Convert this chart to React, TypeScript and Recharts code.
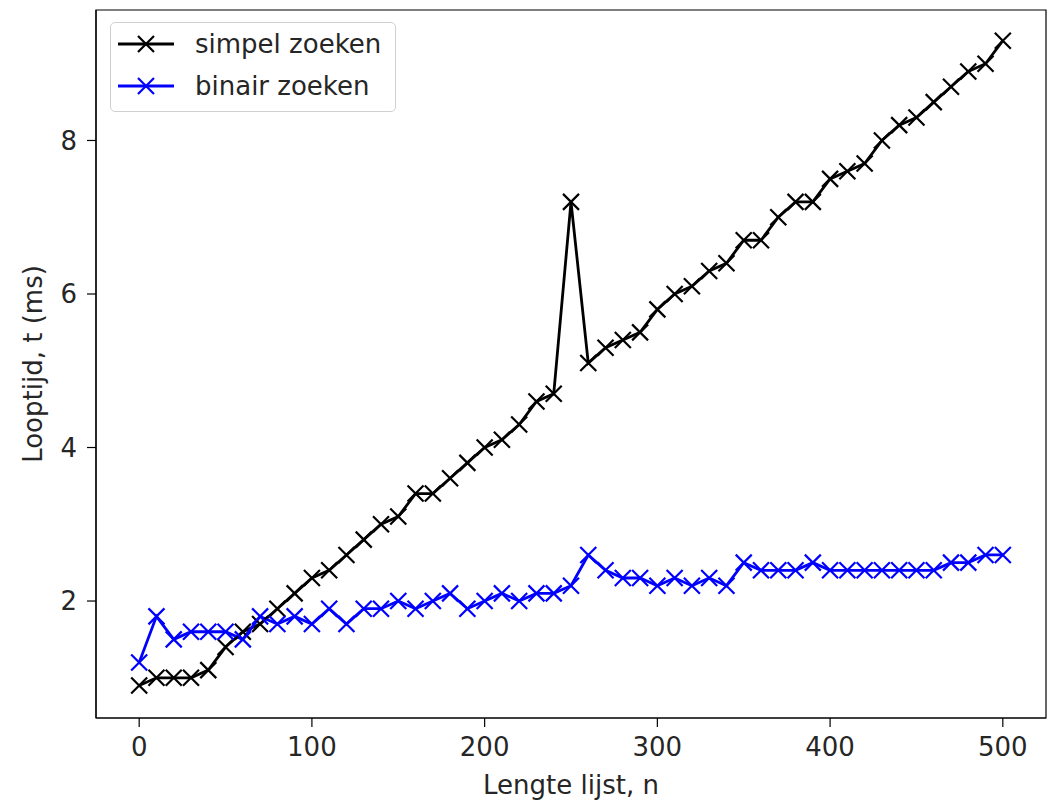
import React from "react";
import {
  LineChart,
  Line,
  XAxis,
  YAxis,
  Legend,
  Label,
  ReferenceArea,
} from "recharts";

// lengte van de lijst, stappen van 10
const lengths = [
  0, 10, 20, 30, 40, 50, 60, 70, 80, 90, 100, 110, 120, 130, 140, 150, 160,
  170, 180, 190, 200, 210, 220, 230, 240, 250, 260, 270, 280, 290, 300, 310,
  320, 330, 340, 350, 360, 370, 380, 390, 400, 410, 420, 430, 440, 450, 460,
  470, 480, 490, 500,
];

const simpelZoeken = [
  0.9, 1.0, 1.0, 1.0, 1.1, 1.4, 1.6, 1.7, 1.9, 2.1, 2.3, 2.4, 2.6, 2.8, 3.0,
  3.1, 3.4, 3.4, 3.6, 3.8, 4.0, 4.1, 4.3, 4.6, 4.7, 7.2, 5.1, 5.3, 5.4, 5.5,
  5.8, 6.0, 6.1, 6.3, 6.4, 6.7, 6.7, 7.0, 7.2, 7.2, 7.5, 7.6, 7.7, 8.0, 8.2,
  8.3, 8.5, 8.7, 8.9, 9.0, 9.3,
];

const binairZoeken = [
  1.2, 1.8, 1.5, 1.6, 1.6, 1.6, 1.5, 1.8, 1.7, 1.8, 1.7, 1.9, 1.7, 1.9, 1.9,
  2.0, 1.9, 2.0, 2.1, 1.9, 2.0, 2.1, 2.0, 2.1, 2.1, 2.2, 2.6, 2.4, 2.3, 2.3,
  2.2, 2.3, 2.2, 2.3, 2.2, 2.5, 2.4, 2.4, 2.4, 2.5, 2.4, 2.4, 2.4, 2.4, 2.4,
  2.4, 2.4, 2.5, 2.5, 2.6, 2.6,
];

const xTicks = [0, 100, 200, 300, 400, 500];
const yTicks = [2, 4, 6, 8];
const xDomain: [number, number] = [-25, 525];
const yDomain: [number, number] = [0.476, 9.7];

const series = [
  { key: "simpel", name: "simpel zoeken", color: "#000000" },
  { key: "binair", name: "binair zoeken", color: "#0000ff" },
];

const data = lengths.map((n, i) => ({
  n,
  simpel: simpelZoeken[i],
  binair: binairZoeken[i],
}));

const FONT = "'DejaVu Sans', sans-serif";
const TEXT = "#262626";
const FS = 26;

function cross(color: string) {
  return (props: any) => {
    const { cx, cy, index } = props;
    if (cx == null || cy == null) return <g key={index} />;
    const r = 8;
    return (
      <path
        key={index}
        d={`M${cx - r},${cy - r}L${cx + r},${cy + r}M${cx - r},${cy + r}L${cx + r},${cy - r}`}
        stroke={color}
        strokeWidth={2.2}
        fill="none"
      />
    );
  };
}

function LegendBox() {
  return (
    <div
      style={{
        position: "relative",
        width: 284,
        height: 88,
        border: "1px solid #d0d0d0",
        borderRadius: 5,
        background: "rgba(255,255,255,0.8)",
        fontFamily: FONT,
        fontSize: FS,
        color: TEXT,
        textAlign: "left",
      }}
    >
      {series.map((s, i) => (
        <div
          key={s.key}
          style={{
            position: "absolute",
            left: 7,
            top: 6 + i * 42,
            height: 30,
            display: "flex",
            alignItems: "center",
            whiteSpace: "nowrap",
          }}
        >
          <svg width={56} height={30} style={{ marginRight: 21 }}>
            <line x1={0} y1={15} x2={56} y2={15} stroke={s.color} strokeWidth={2.8} />
            <path d="M20,7L36,23M20,23L36,7" stroke={s.color} strokeWidth={2.2} />
          </svg>
          <span>{s.name}</span>
        </div>
      ))}
    </div>
  );
}

export default function App() {
  const tickStyle = { fontFamily: FONT, fontSize: FS, fill: TEXT };
  return (
    <div
      style={{
        position: "absolute",
        left: 0,
        top: 0,
        width: 1051,
        height: 802,
        overflow: "hidden",
        background: "#fff",
      }}
    >
      <LineChart
        width={1051}
        height={802}
        data={data}
        margin={{ top: 10, right: 5, left: 0, bottom: 0 }}
      >
        <XAxis
          dataKey="n"
          type="number"
          domain={xDomain}
          ticks={xTicks}
          height={84}
          tick={tickStyle}
          tickSize={9}
          tickMargin={11}
          axisLine={{ stroke: "#000", strokeWidth: 1.2 }}
          tickLine={{ stroke: "#000", strokeWidth: 1.2 }}
        >
          <Label
            value="Lengte lijst, n"
            position="insideBottom"
            offset={8}
            style={{ fontFamily: FONT, fontSize: FS, fill: TEXT }}
          />
        </XAxis>
        <YAxis
          type="number"
          domain={yDomain}
          ticks={yTicks}
          width={96}
          tick={tickStyle}
          tickSize={9}
          tickMargin={10}
          axisLine={{ stroke: "#000", strokeWidth: 1.2 }}
          tickLine={{ stroke: "#000", strokeWidth: 1.2 }}
        >
          <Label
            value="Looptijd, t (ms)"
            angle={-90}
            position="insideLeft"
            offset={33}
            style={{ fontFamily: FONT, fontSize: FS, fill: TEXT, textAnchor: "middle" }}
          />
        </YAxis>
        {/* kader rond het plotgebied */}
        <ReferenceArea
          x1={xDomain[0]}
          x2={xDomain[1]}
          y1={yDomain[0]}
          y2={yDomain[1]}
          fill="none"
          fillOpacity={0}
          stroke="#000"
          strokeWidth={1.2}
        />
        <Legend
          layout="horizontal"
          verticalAlign="middle"
          align="center"
          content={() => <LegendBox />}
          wrapperStyle={{ position: "absolute", left: 110, top: 22, width: 286, height: 90 }}
        />
        {series.map((s) => (
          <Line
            key={s.key}
            type="linear"
            dataKey={s.key}
            name={s.name}
            stroke={s.color}
            strokeWidth={2.8}
            dot={cross(s.color)}
            activeDot={false}
            isAnimationActive={false}
          />
        ))}
      </LineChart>
    </div>
  );
}
